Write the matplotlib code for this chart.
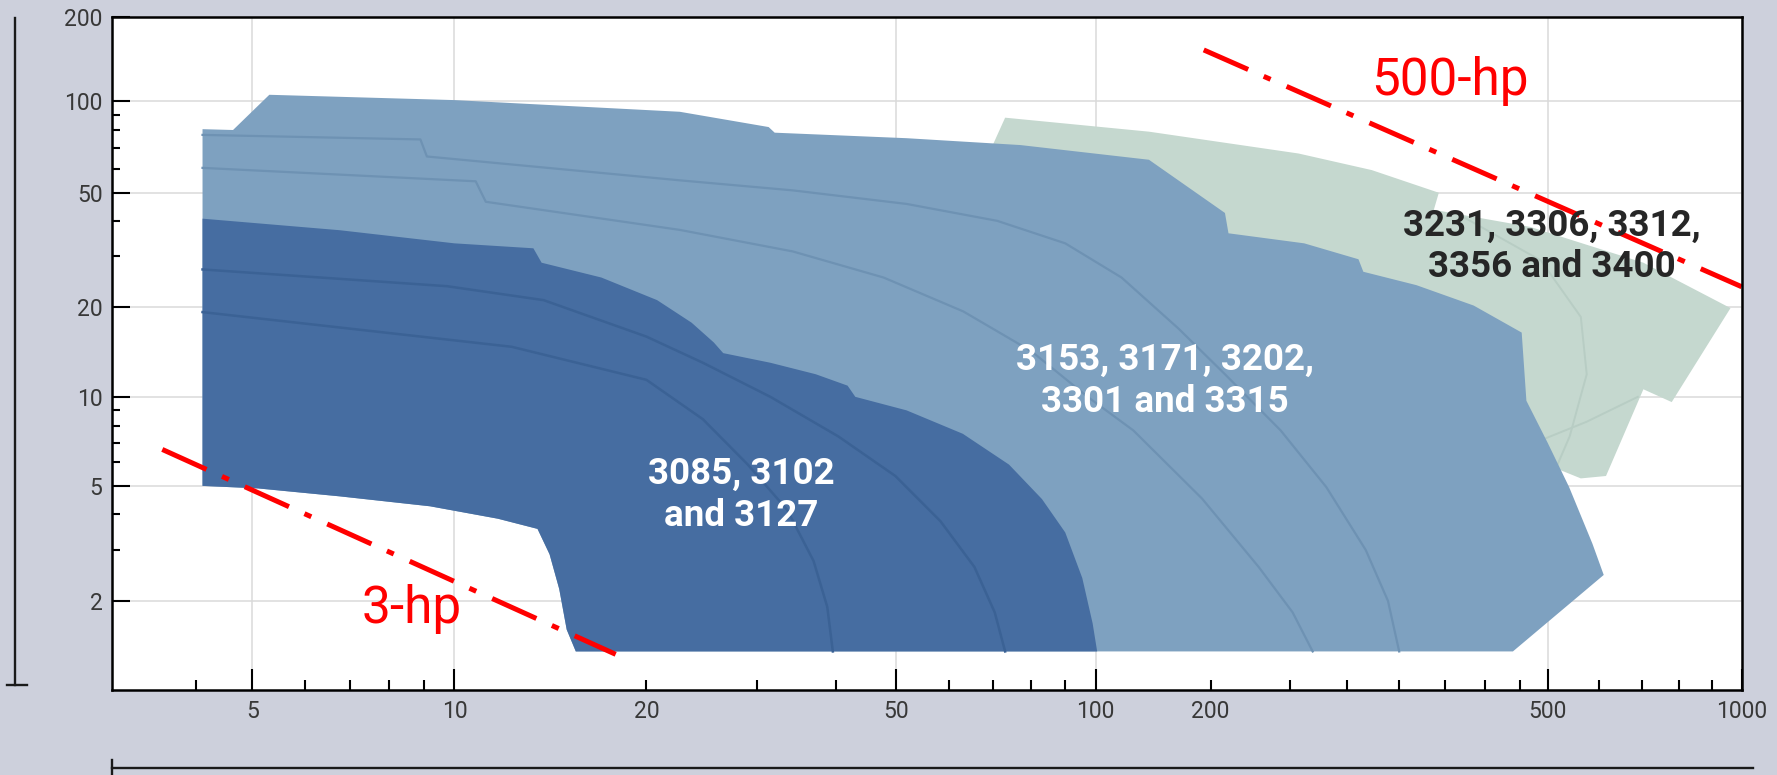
import numpy as np
import matplotlib
matplotlib.use("Agg")
import matplotlib.pyplot as plt
from matplotlib.lines import Line2D
from matplotlib.ticker import FixedLocator, FixedFormatter, FuncFormatter

plt.rcParams["font.family"] = ["Roboto", "DejaVu Sans"]

# stretched log axes: tick value -> distance along the axis (px)
x_stops = [3, 4, 5, 10, 20, 50, 100, 200, 500, 1000]
x_dist = [0, 84, 140, 342, 534, 784, 983, 1098, 1435, 1629]
y_stops = [1, 2, 5, 10, 20, 50, 100, 200]
y_dist = [0, 89, 204, 293, 383, 497, 589, 673]

x_major = [5, 10, 50, 100, 500, 1000]
x_minor = [4, 6, 7, 8, 9, 20, 30, 40, 60, 70, 80, 90, 200,
           248, 290, 334, 378, 422, 464, 600, 700, 800, 900]
x_minor_labels = {20: "20", 200: "200"}
y_major = [2, 5, 10, 20, 50, 100, 200]
y_minor = [3, 4, 6, 7, 8, 9, 30, 40, 60, 70, 80, 90]

# 3085 / 3102 / 3127 : top and right edge
small_q = [4.1, 6.75, 10, 13.3, 13.7, 17, 20.8, 23.6, 25.6, 26.5, 31.5, 37.2,
           41.8, 43, 51.8, 63, 74, 83, 90, 95.5, 99, 101]
small_h = [40.6, 37, 33.3, 32, 28.5, 25.3, 21.1, 17.7, 15.2, 14, 13, 11.9,
           10.9, 10, 9, 7.5, 5.9, 4.5, 3.45, 2.4, 1.68, 1.35]
# lower-left edge shared by the two blue groups
lower_q = [15.5, 15, 14.6, 14.1, 13.5, 11.7, 9.2, 6.75, 5.1, 4.1]
lower_h = [1.35, 1.6, 2.2, 2.9, 3.55, 3.85, 4.25, 4.6, 4.9, 5.0]

# 3153 / 3171 / 3202 / 3301 / 3315 : top and right edge
mid_q = [4.1, 4.63, 5.3, 10, 22.6, 31.3, 32, 51.8, 77, 138, 208, 210, 258,
         299, 303, 350, 409, 466, 472, 500, 540, 587, 611, 455]
mid_h = [80.7, 80.2, 105, 100.5, 92, 82, 78.6, 75.4, 71.6, 64.1, 42.5, 36.1,
         33.3, 29.3, 26.5, 23.8, 20.2, 16.4, 9.7, 7, 4.95, 3.15, 2.46, 1.35]

# 3231 / 3306 / 3312 / 3356 / 3400
big_q = [70, 73, 138, 254, 310, 372, 367, 477, 704, 961, 779, 704, 616,
         563, 462, 77]
big_h = [72, 88, 79.2, 67.2, 59.3, 50, 43.6, 38, 28.5, 19.8, 9.6, 10.6, 5.4,
         5.3, 6.45, 15.5]

# single-pump curves inside each group
small_curves = [
    ([4.1, 9.75, 13.8, 20, 24.6, 31.5, 40.4, 49.8, 58.3, 65.6, 70.4, 73],
     [27, 23.6, 21.1, 15.9, 13, 10, 7.35, 5.4, 3.77, 2.62, 1.83, 1.35]),
    ([4.1, 12.3, 20, 24.6, 29, 33.5, 36.9, 38.8, 39.6],
     [19.2, 14.7, 11.4, 8.4, 5.9, 4.13, 2.75, 1.91, 1.35]),
]
mid_curves = [
    ([4.1, 8.9, 9.1, 22.6, 34.2, 51.8, 71, 90, 117, 165, 208, 242, 274, 305,
      324, 334],
     [77.3, 74.7, 65.7, 54.9, 50.9, 45.7, 39.9, 33.3, 25.3, 16.9, 11.9, 7.7,
      4.95, 3.0, 2.0, 1.35]),
    ([4.1, 10.8, 11.2, 22.6, 34.2, 47.7, 63.1, 80, 97.3, 125.6, 190, 228,
      250, 264],
     [60.3, 54.5, 46.5, 37.1, 31.2, 25.3, 19.3, 14.2, 10, 7.7, 4.52, 2.62,
      1.83, 1.35]),
]
big_curves = [
    ([390, 491, 563, 575, 541, 509], [42.5, 29, 18.5, 11.9, 7.35, 5.4]),
    ([477, 575, 690], [6.9, 8.24, 10]),
]

hp_lines = {"3-hp": ([3.56, 17.9], [6.64, 1.32]),
            "500-hp": ([192, 1000], [152, 23.5])}
hp_text = {"3-hp": (8.65, 1.68), "500-hp": (383, 105)}

group_labels = [("3085, 3102\nand 3127", 28.3, 4.65, "white"),
                ("3153, 3171, 3202,\n3301 and 3315", 152, 11.3, "white"),
                ("3231, 3306, 3312,\n3356 and 3400", 507, 32.5, "#262626")]


def stretched(stops, dist):
    lv = np.log10(stops)

    def fwd(v):
        v = np.clip(np.asarray(v, dtype=float), 1e-9, None)
        return np.interp(np.log10(v), lv, dist)

    def inv(p):
        return 10 ** np.interp(p, dist, lv)
    return fwd, inv


fig = plt.figure(figsize=(17.77, 7.75), dpi=100, facecolor="#cdd0dc")
ax = fig.add_axes([0.0632, 0.1097, 0.9169, 0.8688])
ax.set_facecolor("white")
ax.set_xscale("function", functions=stretched(x_stops, x_dist))
ax.set_yscale("function", functions=stretched(y_stops, y_dist))
ax.set_xlim(3, 1000)
ax.set_ylim(1, 200)

ax.set_axisbelow(True)
ax.grid(True, which="major", color="#dadada", lw=1.1)

# envelopes, back to front
ax.fill(big_q, big_h, color="#c5d8cf", lw=0, zorder=1)
for q, h in big_curves:
    ax.plot(q, h, color="#b8cdc4", lw=1.4, zorder=1.1)
ax.fill(mid_q + lower_q, mid_h + lower_h, color="#7ea1c0", lw=0, zorder=2)
for q, h in mid_curves:
    ax.plot(q, h, color="#6e92b3", lw=1.6, zorder=2.1)
ax.fill(small_q + lower_q, small_h + lower_h, color="#466da1", lw=0, zorder=3)
for q, h in small_curves:
    ax.plot(q, h, color="#3b6295", lw=1.8, zorder=3.1)

for name, (q, h) in hp_lines.items():
    ax.plot(q, h, color="#ff0000", lw=3.6, linestyle=(0, (9.7, 3.4, 1.5, 3.5)),
            solid_capstyle="butt", dash_capstyle="butt", zorder=4)
    tx, ty = hp_text[name]
    ax.text(tx, ty, name, color="#ff0000", fontsize=37, ha="center",
            va="baseline", zorder=5)

for txt, q, h, col in group_labels:
    ax.text(q, h, txt, color=col, fontsize=26.5, fontweight="bold",
            ha="center", va="center", linespacing=1.2, zorder=5)

# ticks
ax.xaxis.set_major_locator(FixedLocator(x_major))
ax.xaxis.set_major_formatter(FixedFormatter([str(v) for v in x_major]))
ax.xaxis.set_minor_locator(FixedLocator(x_minor))
ax.xaxis.set_minor_formatter(
    FuncFormatter(lambda v, _: x_minor_labels.get(int(round(v)), "")))
ax.yaxis.set_major_locator(FixedLocator(y_major))
ax.yaxis.set_major_formatter(FixedFormatter([str(v) for v in y_major]))
ax.yaxis.set_minor_locator(FixedLocator(y_minor))

ax.tick_params(axis="both", which="both", direction="in", color="black",
               width=1.5, labelsize=16.5, labelcolor="#383838", pad=7)
ax.tick_params(axis="x", which="major", length=15)
ax.tick_params(axis="x", which="minor", length=7.5)
ax.tick_params(axis="y", which="major", length=13)
ax.tick_params(axis="y", which="minor", length=6)
for s in ax.spines.values():
    s.set_linewidth(1.8)
    s.set_color("black")
    s.set_zorder(6)

# axis rules at the figure edges
rule = dict(color="#1a1a1a", lw=1.7, transform=fig.transFigure)
fig.add_artist(Line2D([0.00844, 0.00844], [0.9764, 0.1161], **rule))
fig.add_artist(Line2D([0.0038, 0.0150], [0.1161, 0.1161], **rule))
fig.add_artist(Line2D([0.0632, 0.9867], [0.0087, 0.0087], **rule))
fig.add_artist(Line2D([0.0632, 0.0632], [0.0194, 0.0], **rule))

fig.savefig("out.png", dpi=100, facecolor=fig.get_facecolor())
